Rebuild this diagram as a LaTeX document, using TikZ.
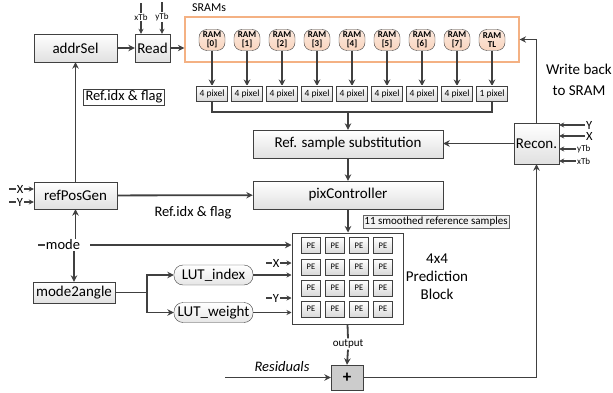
\documentclass[tikz,border=0pt]{standalone}
\usepackage{fontspec}
\setmainfont{Carlito}
\usetikzlibrary{arrows.meta,positioning}

\definecolor{sramline}{HTML}{F4B183}
\definecolor{ramfill}{HTML}{F9D5BE}

\tikzset{
  blk/.style={draw=black!75, top color=white, bottom color=black!12, inner sep=0pt, font=\fontsize{15}{17}\selectfont},
  ram/.style={draw=black!75, top color=ramfill!50, bottom color=ramfill, rounded corners=8pt, minimum width=26pt, minimum height=21pt, inner sep=0pt, align=center, font=\bfseries\fontsize{9}{9}\selectfont},
  pix/.style={draw=black!75, top color=white, bottom color=black!15, minimum width=31pt, minimum height=15pt, inner sep=0pt, font=\fontsize{9.5}{10}\selectfont},
  pe/.style={draw=black!75, top color=white, bottom color=black!15, minimum width=19pt, minimum height=16pt, inner sep=0pt, font=\fontsize{8.5}{9}\selectfont},
  lut/.style={draw=black!75, top color=white, bottom color=black!10, rounded corners=9pt, minimum width=79pt, minimum height=20pt, inner sep=0pt, font=\fontsize{15}{17}\selectfont},
  inp/.style={inner sep=1pt, font=\fontsize{12.5}{13}\selectfont},
  tiny/.style={inner sep=1pt, font=\fontsize{9}{9}\selectfont},
  line/.style={draw=black!75, line width=1.8pt},
  thinl/.style={draw=black!75, line width=1.2pt},
  arr/.style={line, -{Stealth[length=6.5pt,width=6.5pt]}},
  sarr/.style={thinl, -{Stealth[length=5pt,width=5pt]}}
}

\begin{document}
\begin{tikzpicture}[x=1pt,y=-1pt]
\useasboundingbox (0,0) rectangle (613,393);

% address path
\node[blk, minimum width=83pt, minimum height=28pt] (addr) at (75.5,48) {addrSel};
\node[blk, minimum width=35pt, minimum height=28pt] (read) at (152.5,48) {Read};
\node[tiny] (xtb) at (141,17) {xTb};
\node[tiny] (ytb) at (162,17) {yTb};
\draw[thinl] (xtb.north) -- ++(0,-10);
\draw[thinl] (ytb.north) -- ++(0,-10);
\draw[sarr] (xtb.south) -- (xtb.south |- read.north);
\draw[sarr] (ytb.south) -- (ytb.south |- read.north);

% SRAM banks
\node[draw=sramline, line width=1.2pt, minimum width=334pt, minimum height=45pt] (sram) at (352,39.5) {};
\node[font=\fontsize{12}{12}\selectfont] at (209,8) {SRAMs};
\foreach \i/\t in {0/[0],1/[1],2/[2],3/[3],4/[4],5/[5],6/[6],7/[7],8/TL}
{
  \node[ram] (ram\i) at (212+35*\i,40) {RAM\\\t};
  \draw[arr] (ram\i.south) -- (212+35*\i,86);
}
\foreach \i in {0,...,7}
  \node[pix] (px\i) at (212+35*\i,93.5) {4 pixel};
\node[pix] (px8) at (492,93.5) {1 pixel};
\coordinate (bus) at (348,112);
\draw[line] (px0.south) |- (bus) -| (px8.south);

\node[blk, minimum width=190pt, minimum height=28pt] (sub) at (348,144) {Ref. sample substitution};
\node[blk, minimum width=190pt, minimum height=28pt] (pixc) at (348,195) {pixController};
\node[blk, minimum width=45pt, minimum height=41pt] (recon) at (536.5,143.5) {Recon.};
\draw[arr] (bus) -- (sub.north);
\draw[arr] (sub) -- (pixc);
\draw[arr] (recon.west) -- (sub.east |- recon.west);
\draw[arr] (recon.north) |- (sram.east);
\node[align=center, font=\fontsize{15}{21}\selectfont] at (579,80) {Write back\\to SRAM};

% recon inputs
\foreach \x/\y/\t/\s in {585/125/Y/inp, 585/136/X/inp, 576/149/yTb/tiny, 576/161/xTb/tiny}
{
  \node[\s, anchor=west] (r\t) at (\x,\y) {\t};
  \draw[sarr] (r\t.west) -- (recon.east |- r\t.west);
}

% position generator
\node[blk, minimum width=83pt, minimum height=27pt] (rpg) at (75.5,195.5) {refPosGen};
\node[inp] (px) at (20,189) {X};
\node[inp] (py) at (20,202) {Y};
\draw[thinl] (px.west) -- ++(-7,0);
\draw[thinl] (py.west) -- ++(-7,0);
\draw[sarr] (px.east) -- (rpg.west |- px.east);
\draw[sarr] (py.east) -- (rpg.west |- py.east);
\draw[arr] (rpg) -- (pixc);
\node[font=\fontsize{14.5}{16}\selectfont] at (193,213) {Ref.idx \& flag};
\draw[arr] (rpg) -- (addr);
\node[draw=black!75, fill=white, inner sep=2pt, font=\fontsize{14.5}{16}\selectfont] at (124,97) {Ref.idx \& flag};
\draw[arr] (addr) -- (read);
\draw[arr] (read.east) -- (sram.west |- read.east);

% prediction block
\node[draw=black!75, fill=white, line width=1pt, minimum width=111pt, minimum height=91pt] (peblk) at (347.5,278.5) {};
\foreach \r in {0,...,3}
  \foreach \c in {0,...,3}
    \node[pe] (pe\r\c) at (311+24*\c,245.5+21.2*\r) {PE};
\draw[arr] (pixc.south) -- (pixc.south |- peblk.north);
\node[draw=black!60, fill=black!5, inner sep=1.5pt, font=\fontsize{11}{12}\selectfont] at (436,221.5) {11 smoothed reference samples};
\node[align=center, font=\fontsize{15}{18}\selectfont] at (437,277) {4x4\\Prediction\\Block};

% mode path
\node[inp, font=\fontsize{14.5}{15}\selectfont] (mode) at (63,245) {mode};
\draw[thinl] (mode.west) -- ++(-7,0);
\draw[arr] (90,245) -- (peblk.west |- mode);
\draw[arr] (rpg.south |- mode.north) -- (rpg.south);
\node[draw=black!75, top color=white, bottom color=black!12, minimum width=82pt, minimum height=21pt, inner sep=0pt, font=\fontsize{15}{17}\selectfont] (m2a) at (74,292.5) {mode2angle};
\draw[arr] (m2a.north |- mode.south) -- (m2a.north);
\node[lut] (luti) at (213.5,275) {LUT\_index};
\node[lut] (lutw) at (213.5,312.5) {LUT\_weight};
\coordinate (br) at (147,292.5);
\draw[line] (m2a.east) -- (br);
\draw[arr] (br) |- (luti.west);
\draw[arr] (br) |- (lutw.west);
\draw[sarr] (luti.east) -- (peblk.west |- luti.east);
\draw[sarr] (lutw.east) -- (peblk.west |- lutw.east);
\node[inp] (bx) at (276,263) {X};
\node[inp] (by) at (276,298) {Y};
\draw[thinl] (bx.west) -- ++(-6,0);
\draw[thinl] (by.west) -- ++(-6,0);
\draw[sarr] (bx.east) -- (peblk.west |- bx.east);
\draw[sarr] (by.east) -- (peblk.west |- by.east);

% adder and write back
\node[draw=black!75, fill=black!20, minimum width=32pt, minimum height=25pt, inner sep=0pt, font=\bfseries\fontsize{17}{17}\selectfont] (plus) at (347,377.5) {+};
\node[inner sep=1pt, font=\fontsize{11}{12}\selectfont] (outl) at (348,344) {output};
\draw[line] (peblk.south) -- (outl.north);
\draw[arr] (outl.south) -- (plus.north);
\coordinate (res) at (225,377.5);
\draw[arr] (res) -- (plus.west);
\node[font=\itshape\fontsize{14.5}{16}\selectfont] at (282,367) {Residuals};
\draw[arr] (plus.east) -| (recon.south);
\end{tikzpicture}
\end{document}
